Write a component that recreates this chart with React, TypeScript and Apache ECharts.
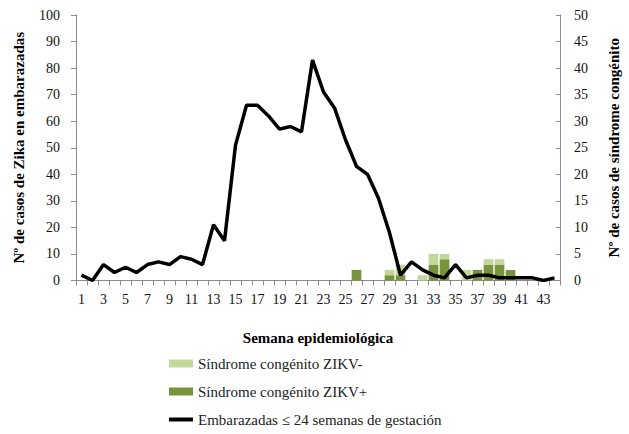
import React, { useEffect, useRef } from "react";
import * as echarts from "echarts";

const weeks: string[] = Array.from({ length: 44 }, (_, i) => String(i + 1));

const embarazadas: number[] = [
  2, 0, 6, 3, 5, 3, 6, 7, 6, 9, 8, 6, 21, 15, 51, 66, 66, 62, 57, 58, 56, 83,
  71, 65, 53, 43, 40, 31, 18, 2, 7, 4, 2, 1, 6, 1, 2, 2, 1, 1, 1, 1, 0, 1,
];

const zikvPos: number[] = [
  0, 0, 0, 0, 0, 0, 0, 0, 0, 0, 0, 0, 0, 0, 0, 0, 0, 0, 0, 0, 0, 0, 0, 0, 0, 2,
  0, 0, 1, 1, 0, 0, 3, 4, 0, 0, 2, 3, 3, 2, 0, 0, 0, 0,
];

const zikvNeg: number[] = [
  0, 0, 0, 0, 0, 0, 0, 0, 0, 0, 0, 0, 0, 0, 0, 0, 0, 0, 0, 0, 0, 0, 0, 0, 0, 0,
  0, 0, 1, 2, 0, 1, 2, 1, 0, 2, 0, 1, 1, 0, 0, 0, 0, 0,
];

const NAME_NEG = "Síndrome congénito ZIKV-";
const NAME_POS = "Síndrome congénito ZIKV+";
const NAME_LINE = "Embarazadas ≤ 24 semanas de gestación";

const FONT = "Liberation Serif, Times New Roman, serif";

export default function App() {
  const ref = useRef<HTMLDivElement>(null);
  useEffect(() => {
    document.body.style.margin = "0";
    const chart = echarts.init(ref.current!, null, { renderer: "svg" });
    const axisLine = { show: true, lineStyle: { color: "#8c8c8c", width: 1 } };
    const lbl = { fontFamily: FONT, fontSize: 14, color: "#111" };
    chart.setOption({
      animation: false,
      textStyle: { fontFamily: FONT },
      grid: { left: 76, right: 68, top: 15, bottom: 153.5 },
      legend: {
        orient: "vertical",
        left: 169,
        top: 356,
        padding: 0,
        itemWidth: 24,
        itemHeight: 8,
        itemGap: 13,
        data: [
          { name: NAME_NEG, icon: "rect" },
          { name: NAME_POS, icon: "rect" },
          { name: NAME_LINE, icon: "path://M0 0H24V4H0Z" },
        ],
        textStyle: { fontFamily: FONT, fontSize: 15, color: "#222" },
      },
      xAxis: {
        type: "category",
        data: weeks,
        boundaryGap: true,
        name: "Semana epidemiológica",
        nameLocation: "middle",
        nameGap: 50,
        nameTextStyle: { fontFamily: FONT, fontSize: 15, fontWeight: "bold", color: "#000" },
        axisLine,
        axisTick: { show: true, interval: 0, length: 5, lineStyle: { color: "#8c8c8c" } },
        axisLabel: { interval: 1, margin: 12, ...lbl },
        splitLine: { show: false },
      },
      yAxis: [
        {
          type: "value",
          min: 0,
          max: 100,
          interval: 10,
          name: "Nº de casos de Zika en embarazadas",
          nameLocation: "middle",
          nameGap: 50,
          nameTextStyle: { fontFamily: FONT, fontSize: 15, fontWeight: "bold", color: "#000" },
          axisLine,
          axisTick: { show: true, length: 5, lineStyle: { color: "#8c8c8c" } },
          axisLabel: { margin: 16, ...lbl },
          splitLine: { show: false },
        },
        {
          type: "value",
          min: 0,
          max: 50,
          interval: 5,
          position: "right",
          name: "Nº de casos de síndrome congénito",
          nameLocation: "middle",
          nameGap: 46,
          nameRotate: 90,
          nameTextStyle: { fontFamily: FONT, fontSize: 15, fontWeight: "bold", color: "#000" },
          axisLine,
          axisTick: { show: true, inside: true, length: 4, lineStyle: { color: "#8c8c8c" } },
          axisLabel: { margin: 14, ...lbl },
          splitLine: { show: false },
        },
      ],
      series: [
        {
          name: NAME_POS,
          type: "bar",
          yAxisIndex: 1,
          stack: "sc",
          data: zikvPos,
          barCategoryGap: "12%",
          itemStyle: { color: "#77933c" },
        },
        {
          name: NAME_NEG,
          type: "bar",
          yAxisIndex: 1,
          stack: "sc",
          data: zikvNeg,
          barCategoryGap: "12%",
          itemStyle: { color: "#c3d69b" },
        },
        {
          name: NAME_LINE,
          type: "line",
          yAxisIndex: 0,
          data: embarazadas,
          symbol: "none",
          lineStyle: { color: "#000", width: 3.5 },
          itemStyle: { color: "#000" },
        },
      ],
    });
    return () => chart.dispose();
  }, []);
  return <div ref={ref} style={{ width: 629, height: 434 }} />;
}
